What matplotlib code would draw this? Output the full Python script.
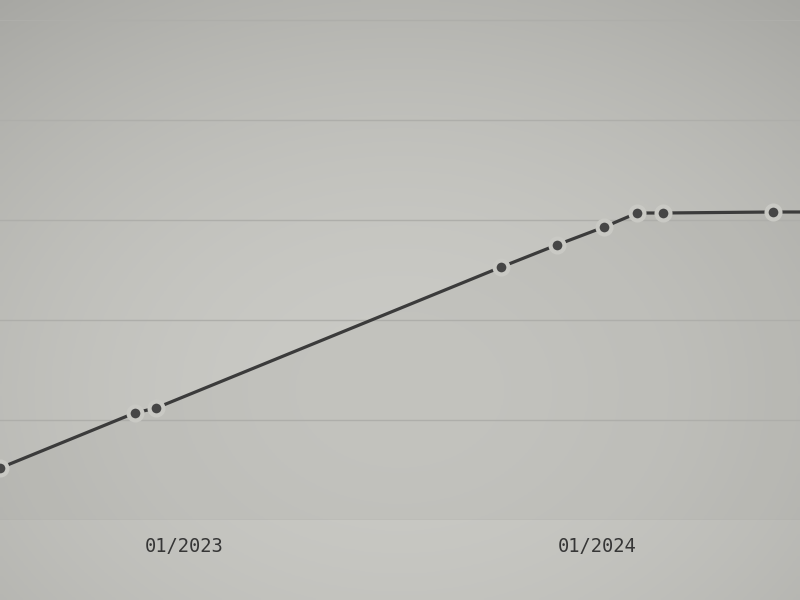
import numpy as np
import pandas as pd
import matplotlib
matplotlib.use("Agg")
import matplotlib.pyplot as plt

# --- data ---
dates = pd.to_datetime([
    "2022-07-22", "2022-11-18", "2022-12-07", "2023-10-08", "2023-11-26",
    "2024-01-07", "2024-02-05", "2024-02-28", "2024-06-04", "2024-08-10",
])
values = [0.52, 1.07, 1.12, 2.53, 2.75, 2.93, 3.07, 3.07, 3.08, 3.08]
tick_dates = pd.to_datetime(["2023-01-01", "2024-01-01"])
tick_labels = ["01/2023", "01/2024"]
grid_levels = [0, 1, 2, 3, 4, 5]

bg = "#c8c8c3"
line_color = "#3b3b3b"

fig = plt.figure(figsize=(8, 6), dpi=100, facecolor=bg)

# mild photo-like shading (darker at the top, lighter in the middle)
bg_ax = fig.add_axes([0, 0, 1, 1], zorder=0)
yy, xx = np.mgrid[0:1:200j, 0:1:200j]
light = 1 - 0.25 * ((xx - 0.5) ** 2 + (yy - 0.55) ** 2) - 0.05 * (1 - yy)
base = np.array([206, 206, 201]) / 255
img = np.clip(base[None, None, :] * light[:, :, None], 0, 1)
bg_ax.imshow(img, aspect="auto", extent=[0, 1, 0, 1], origin="upper")
bg_ax.axis("off")

ax = fig.add_axes([0, 80 / 600, 1, 520 / 600], zorder=1)
ax.set_facecolor("none")

ax.fill_between(dates, values, -1, color="#9a9a95", alpha=0.14, lw=0)
ax.plot(dates, values, color=line_color, lw=2.3, zorder=3)
ax.plot(dates, values, ls="none", marker="o", ms=10, mfc="#464646",
        mec="#c9c9c4", mew=3, zorder=4)

for g in grid_levels:
    ax.axhline(g, color="#aeaeaa", lw=1, zorder=1)

ax.set_xlim(pd.Timestamp("2022-07-22"), pd.Timestamp("2024-06-28"))
ax.set_ylim(0, 5.2)
ax.set_xticks(tick_dates)
ax.set_xticklabels(tick_labels, family="DejaVu Sans Mono", fontsize=13.5,
                   color="#363636")
ax.tick_params(axis="x", length=0, pad=12.5)
ax.set_yticks([])
for s in ax.spines.values():
    s.set_visible(False)

fig.savefig("out.png", dpi=100, facecolor=bg)
